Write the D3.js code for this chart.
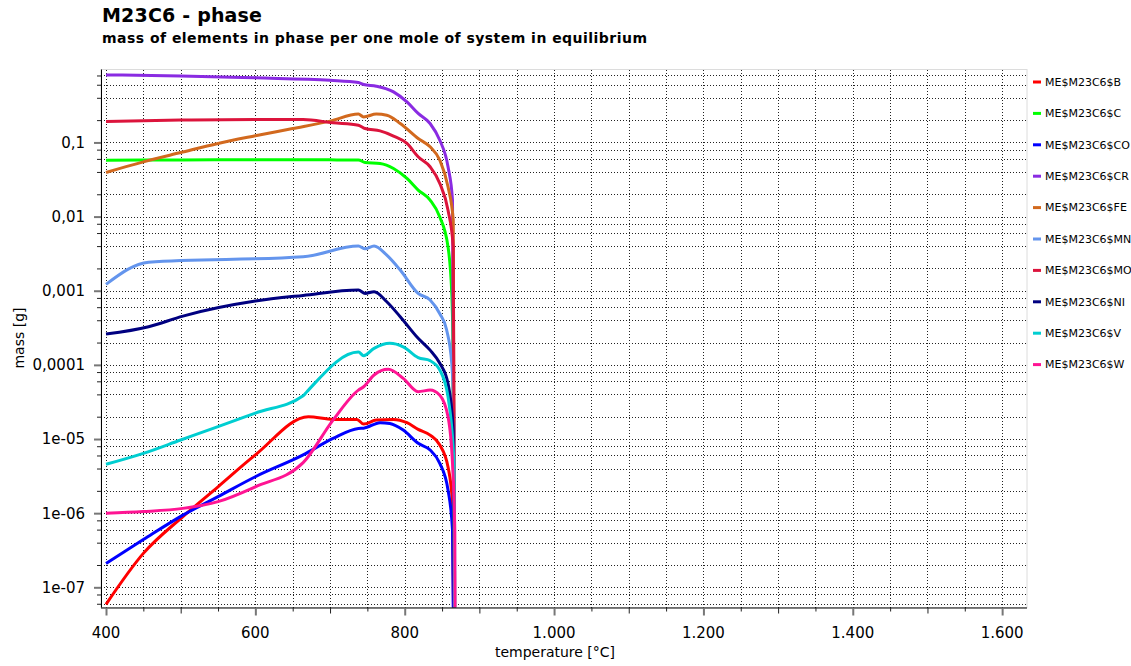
<!DOCTYPE html>
<html>
<head>
<meta charset="utf-8">
<script src="https://cdn.jsdelivr.net/npm/d3@7"></script>
<style>
  body { margin: 0; background: #fff; }
  text { font-family: "DejaVu Sans", Verdana, sans-serif; }
</style>
</head>
<body>
<svg id="chart" width="1131" height="666"></svg>
<script>
// series: [temperature °C, mass g]
const seriesNames = ["ME$M23C6$B", "ME$M23C6$C", "ME$M23C6$CO", "ME$M23C6$CR", "ME$M23C6$FE",
  "ME$M23C6$MN", "ME$M23C6$MO", "ME$M23C6$NI", "ME$M23C6$V", "ME$M23C6$W"];
const seriesColors = ["#ff0000", "#00ff00", "#0000ff", "#8a2be2", "#d2691e",
  "#6495ed", "#dc143c", "#000080", "#00ced1", "#ff1493"];

const dataB = [[400, 5.9e-8], [450, 2.87e-7], [503, 9.0e-7], [550, 2.27e-6], [600, 6.1e-6], [671, 2.0e-5],
  [704, 1.84e-5], [736, 1.84e-5], [745, 1.59e-5], [762, 1.8e-5], [785, 1.84e-5], [803, 1.66e-5],
  [818, 1.35e-5], [834, 1.13e-5], [847, 8.3e-6], [858, 4.2e-6], [864, 1.36e-6], [868, 1e-10]];
const dataC = [[400, 0.0577], [500, 0.058], [600, 0.0585], [700, 0.0582], [738, 0.058], [747, 0.0537],
  [767, 0.052], [785, 0.0446], [803, 0.0327], [818, 0.0228], [834, 0.0167], [847, 0.0099],
  [858, 0.0039], [863, 0.00092], [864.5, 0.000216], [867, 1e-10]];
const dataCO = [[400, 2.1e-7], [450, 4.4e-7], [503, 9.4e-7], [550, 1.67e-6], [600, 3.1e-6], [664, 6.1e-6],
  [704, 1.02e-5], [738, 1.39e-5], [745, 1.4e-5], [767, 1.66e-5], [780, 1.62e-5], [798, 1.32e-5],
  [818, 8.75e-6], [834, 7.1e-6], [847, 4.7e-6], [858, 2.05e-6], [864, 5.9e-7], [867.5, 1e-10]];
const dataCR = [[400, 0.815], [500, 0.79], [600, 0.743], [700, 0.69], [738, 0.644], [745, 0.605],
  [762, 0.574], [785, 0.481], [803, 0.352], [818, 0.246], [834, 0.18], [847, 0.107],
  [858, 0.047], [864, 0.0167], [867.5, 1e-10]];
const dataFE = [[400, 0.0394], [450, 0.0547], [500, 0.073], [550, 0.097], [600, 0.123], [650, 0.154],
  [700, 0.194], [738, 0.241], [745, 0.221], [762, 0.241], [776, 0.233], [794, 0.18], [818, 0.113],
  [834, 0.0873], [847, 0.0577], [858, 0.0252], [865, 0.00895], [867.5, 1e-10]];
const dataMN = [[400, 0.00122], [457, 0.00243], [664, 0.00287], [738, 0.004], [747, 0.00367],
  [759, 0.004], [776, 0.00302], [794, 0.0019], [818, 0.00092], [834, 0.00075], [847, 0.00049],
  [856, 0.0003], [863, 0.000105], [866.4, 1.3e-5], [868, 1e-10]];
const dataMO = [[400, 0.192], [500, 0.2], [600, 0.204], [664, 0.204], [704, 0.184], [738, 0.171],
  [747, 0.154], [767, 0.143], [785, 0.122], [803, 0.097], [818, 0.064], [834, 0.047],
  [847, 0.028], [858, 0.0122], [865, 0.0039], [868, 1e-10]];
const dataNI = [[400, 0.00026], [457, 0.000327], [503, 0.000455], [600, 0.000725], [664, 0.000865],
  [738, 0.00102], [747, 0.00092], [759, 0.00097], [776, 0.00071], [794, 0.000446], [818, 0.000228],
  [834, 0.000158], [847, 0.000105], [858, 5.6e-5], [865, 1.3e-5], [868, 1e-10]];
const dataV = [[400, 4.56e-6], [450, 6.4e-6], [500, 9.7e-6], [550, 1.47e-5], [600, 2.24e-5],
  [664, 3.84e-5], [669, 4.35e-5], [738, 1.49e-4], [745, 1.33e-4], [759, 1.67e-4], [780, 1.95e-4],
  [798, 1.75e-4], [818, 1.25e-4], [834, 1.14e-4], [847, 8.5e-5], [858, 3.7e-5], [866, 4.7e-6],
  [868, 1e-10]];
const dataW = [[400, 9.95e-7], [450, 1.05e-6], [503, 1.16e-6], [550, 1.43e-6], [600, 2.27e-6],
  [664, 4.8e-6], [704, 1.8e-5], [738, 4.57e-5], [745, 5.07e-5], [759, 7.3e-5], [778, 8.7e-5],
  [798, 6.58e-5], [818, 4.35e-5], [834, 4.57e-5], [847, 3.9e-5], [858, 2.0e-5], [864, 4.7e-6],
  [867, 5.9e-7], [868, 1e-10]];
const seriesData = [dataB, dataC, dataCO, dataCR, dataFE, dataMN, dataMO, dataNI, dataV, dataW];

// axis ticks
const xTickValues = [400, 600, 800, 1000, 1200, 1400, 1600];
const xTickLabels = ["400", "600", "800", "1.000", "1.200", "1.400", "1.600"];
const yTickValues = [0.1, 0.01, 0.001, 0.0001, 1e-5, 1e-6, 1e-7];
const yTickLabels = ["0,1", "0,01", "0,001", "0,0001", "1e-05", "1e-06", "1e-07"];

const svg = d3.select("#chart");
const plotLeft = 101, plotRight = 1027, plotTop = 69.5, plotBottom = 607.5;

const x = d3.scaleLinear().domain([393.3, 1633.3]).range([plotLeft, plotRight]);
const y = d3.scaleLog().domain([Math.pow(10, -7.2723), Math.pow(10, -0.0162)]).range([plotBottom, plotTop]);

// minor ticks / grid values
const xGrid = d3.range(400, 1601, 50);
const yGrid = [];
for (let e = -8; e <= 0; e++) {
  [1, 2, 4, 6, 8].forEach(m => {
    const v = m * Math.pow(10, e);
    if (v >= y.domain()[0] && v <= y.domain()[1]) yGrid.push(v);
  });
}

// titles
svg.append("text").attr("x", 102).attr("y", 22)
  .attr("font-size", 19).attr("font-weight", "bold")
  .attr("textLength", 160).attr("lengthAdjust", "spacing")
  .text("M23C6 - phase");
svg.append("text").attr("x", 102).attr("y", 42.5)
  .attr("font-size", 14).attr("font-weight", "bold")
  .attr("textLength", 545).attr("lengthAdjust", "spacing")
  .text("mass of elements in phase per one mole of system in equilibrium");

// frame
svg.append("rect").attr("x", plotLeft).attr("y", plotTop)
  .attr("width", plotRight - plotLeft).attr("height", plotBottom - plotTop)
  .attr("fill", "none").attr("stroke", "#dcdcdc");

// grid
const grid = svg.append("g").attr("shape-rendering", "crispEdges");
grid.selectAll(".gx").data(xGrid).enter().append("line")
  .attr("x1", d => Math.round(x(d)) + 0.5).attr("x2", d => Math.round(x(d)) + 0.5)
  .attr("y1", plotTop).attr("y2", plotBottom)
  .attr("stroke", "#222").attr("stroke-dasharray", "1,2");
grid.selectAll(".gy").data(yGrid).enter().append("line")
  .attr("y1", d => Math.round(y(d)) + 0.5).attr("y2", d => Math.round(y(d)) + 0.5)
  .attr("x1", plotLeft).attr("x2", plotRight)
  .attr("stroke", "#222").attr("stroke-dasharray", "1,2");

// lines
svg.append("clipPath").attr("id", "clip").append("rect")
  .attr("x", plotLeft).attr("y", plotTop).attr("width", plotRight - plotLeft).attr("height", plotBottom - plotTop);

const line = d3.line()
  .x(d => x(d[0]))
  .y(d => y(d[1]))
  .curve(d3.curveMonotoneX);

svg.append("g").attr("clip-path", "url(#clip)")
  .selectAll("path").data(seriesData).enter().append("path")
  .attr("d", line)
  .attr("fill", "none")
  .attr("stroke", (d, i) => seriesColors[i])
  .attr("stroke-width", 3)
  .attr("stroke-linejoin", "round");

// x axis
const xAxisG = svg.append("g").attr("transform", `translate(0,${plotBottom})`);
xAxisG.call(d3.axisBottom(x).tickValues(xGrid).tickSize(4).tickFormat(""));
xAxisG.selectAll(".tick line")
  .attr("y2", d => d % 200 === 0 ? 8 : d % 100 === 0 ? 6 : 4)
  .attr("stroke", d => d % 200 === 0 ? "#777" : "#222")
  .attr("stroke-width", d => d % 200 === 0 ? 2 : 1);
xAxisG.select(".domain").attr("d", `M${plotLeft},0.5H${plotRight}`).attr("stroke", "#000");
xAxisG.append("g").selectAll("text").data(xTickValues).enter().append("text")
  .attr("x", d => x(d)).attr("y", 30)
  .attr("text-anchor", "middle").attr("font-size", 15).attr("fill", "#000")
  .text((d, i) => xTickLabels[i]);

// y axis
const yAxisG = svg.append("g").attr("transform", `translate(${plotLeft},0)`);
yAxisG.call(d3.axisLeft(y).tickValues(yGrid).tickSize(4).tickFormat(""));
const isMajor = d => yTickValues.some(v => Math.abs(v - d) / v < 1e-6);
yAxisG.selectAll(".tick line")
  .attr("x2", d => isMajor(d) ? -7 : -4)
  .attr("stroke", d => isMajor(d) ? "#777" : "#222")
  .attr("stroke-width", d => isMajor(d) ? 2 : 1);
yAxisG.select(".domain").attr("d", `M0.5,${plotTop}V${plotBottom}`).attr("stroke", "#000");
yAxisG.append("g").selectAll("text").data(yTickValues).enter().append("text")
  .attr("x", -16).attr("y", d => y(d)).attr("dy", "0.36em")
  .attr("text-anchor", "end").attr("font-size", 15).attr("fill", "#000")
  .text((d, i) => yTickLabels[i]);

// axis titles
svg.append("text").attr("x", 555).attr("y", 657)
  .attr("text-anchor", "middle").attr("font-size", 14).text("temperature [°C]");
svg.append("text").attr("transform", "translate(24,338) rotate(-90)")
  .attr("text-anchor", "middle").attr("font-size", 14).text("mass [g]");

// legend
const legend = svg.append("g").attr("transform", "translate(1033,82)");
const entries = legend.selectAll("g").data(seriesNames).enter().append("g")
  .attr("transform", (d, i) => `translate(0,${i * 31.4})`);
entries.append("line").attr("x1", 0).attr("x2", 8).attr("y1", 0).attr("y2", 0)
  .attr("stroke", (d, i) => seriesColors[i]).attr("stroke-width", 3);
entries.append("text").attr("x", 12).attr("y", 0).attr("dy", "0.35em")
  .attr("font-size", 11).text(d => d);
</script>
</body>
</html>
